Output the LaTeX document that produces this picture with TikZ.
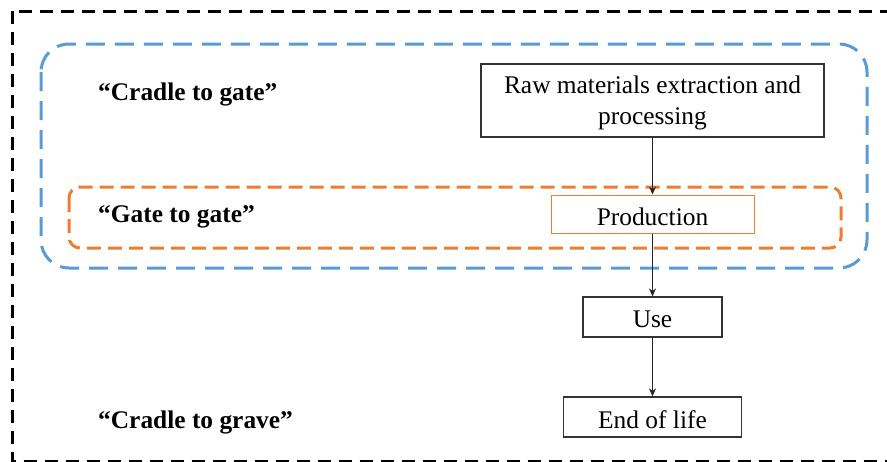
\documentclass[tikz,border=0pt]{standalone}
\usepackage{fontspec}
\setmainfont{Liberation Serif}
\usetikzlibrary{arrows.meta}

\definecolor{lcablue}{HTML}{5B9BD5}
\definecolor{lcaorange}{HTML}{ED7D31}

\tikzset{
  outerframe/.style={draw=black, line width=3pt, dash pattern=on 13pt off 8pt},
  cradlegate/.style={draw=lcablue, line width=3pt, dash pattern=on 19pt off 10pt, rounded corners=28pt},
  gategate/.style={draw=lcaorange, line width=3pt, dash pattern=on 14pt off 7pt, rounded corners=11pt},
  stagebox/.style={draw=black!80, line width=1.2pt, inner sep=0pt},
  stagetext/.style={inner sep=0pt, align=center, yshift=-2.5pt,
    font=\fontsize{25.4}{31}\selectfont},
  scopelabel/.style={anchor=base west, inner sep=0pt,
    font=\fontsize{25.4}{30.5}\selectfont\bfseries},
  flow/.style={draw=black!85, line width=1.1pt, -{Stealth[length=8pt,width=7pt]}}
}

\begin{document}
\begin{tikzpicture}[x=1pt,y=-1pt]
  \clip (0,0) rectangle (887,461);
  \fill[white] (0,0) rectangle (887,461);

  % system boundaries
  \draw[outerframe] (12,11) rectangle (905,461.5);
  \draw[cradlegate] (41,44) rectangle (867,268);
  \draw[gategate] (69,187) rectangle (841,248);

  % life-cycle stages
  \node[stagebox, minimum width=343pt, minimum height=73pt] (raw) at (652.5,100.5) {};
  \node[stagebox, draw=lcaorange, line width=1pt, minimum width=203pt, minimum height=38pt]
    (prod) at (652.5,214) {};
  \node[stagebox, minimum width=139pt, minimum height=40pt] (use) at (652.5,317) {};
  \node[stagebox, minimum width=178pt, minimum height=40pt] (eol) at (652.5,417) {};

  \node[stagetext] (rawtext) at (raw.center) {Raw materials extraction and\\processing};
  \node[stagetext] (prodtext) at (prod.center) {Production};
  \node[stagetext] (usetext) at (use.center) {Use};
  \node[stagetext] (eoltext) at (eol.center) {End of life};

  \draw[flow] (raw) -- (prod);
  \draw[flow] (prod) -- (use);
  \draw[flow] (use) -- (eol);

  % boundary labels
  \node[scopelabel] (lcg) at (98,100) {“Cradle to gate”};
  \node[scopelabel] (lgg) at (98,222) {“Gate to gate”};
  \node[scopelabel] (lcv) at (98,428) {“Cradle to grave”};
\end{tikzpicture}
\end{document}
